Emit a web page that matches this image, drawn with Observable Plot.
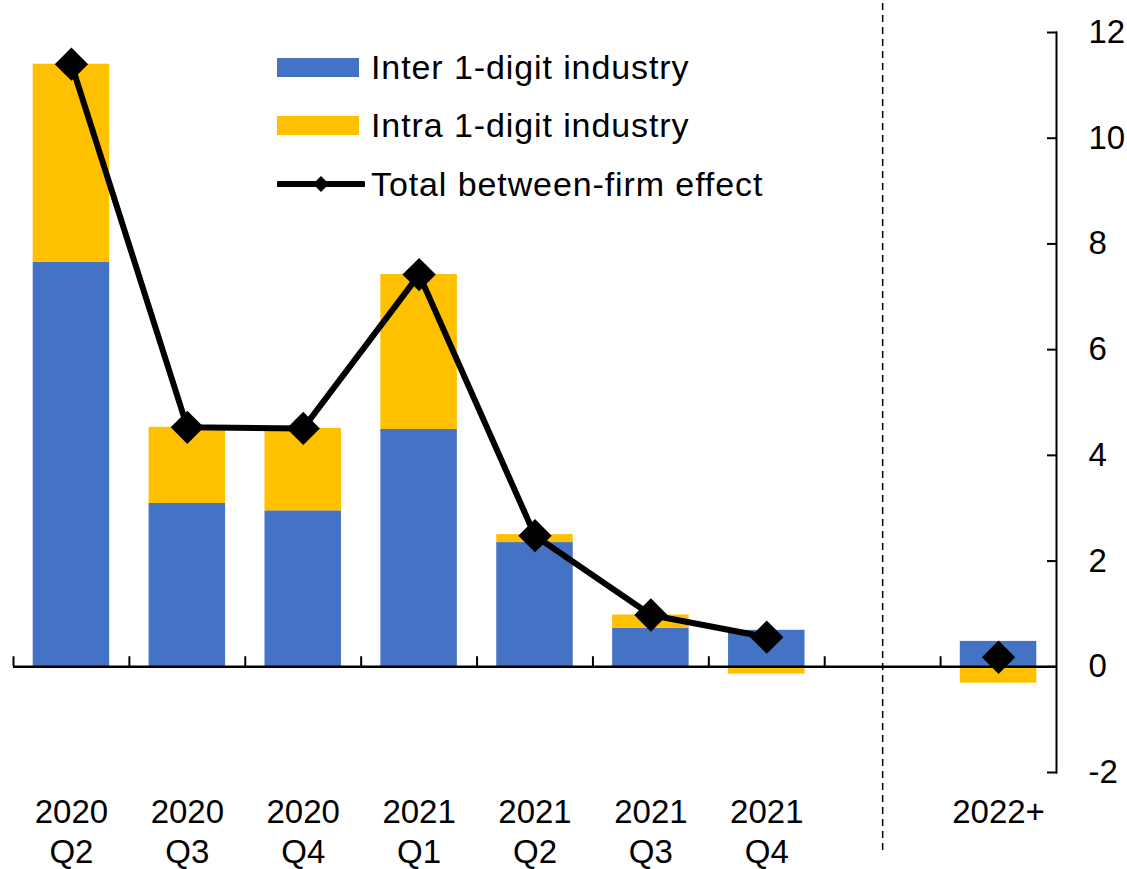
<!DOCTYPE html>
<html>
<head>
<meta charset="utf-8">
<script src="https://cdn.jsdelivr.net/npm/d3@7"></script>
<script src="https://cdn.jsdelivr.net/npm/@observablehq/plot@0.6"></script>
<style>
  body { margin: 0; background: white; }
  #wrap { position: relative; width: 1127px; height: 869px; font-family: Arial, "Liberation Sans", sans-serif; }
  #legend { position: absolute; left: 277px; top: 38px; font-size: 34px; letter-spacing: 0.9px; color: black; }
  .row { display: flex; align-items: center; height: 58.5px; }
  .sw { width: 82px; height: 19px; margin-right: 12px; }
  .lineSw { width: 88px; height: 20px; margin-right: 6px; }
</style>
</head>
<body>
<div id="wrap">
  <div id="chart"></div>
  <div id="legend"></div>
</div>
<script>
const categories = ["2020 Q2", "2020 Q3", "2020 Q4", "2021 Q1", "2021 Q2", "2021 Q3", "2021 Q4", "gap", "2022+"];
const dataCategories = ["2020 Q2", "2020 Q3", "2020 Q4", "2021 Q1", "2021 Q2", "2021 Q3", "2021 Q4", "2022+"];
const interValues = [7.65, 3.09, 2.95, 4.49, 2.35, 0.73, 0.69, 0.48];
const intraValues = [3.75, 1.44, 1.56, 2.93, 0.15, 0.25, -0.14, -0.31];
const totalValues = [11.4, 4.53, 4.51, 7.42, 2.48, 0.98, 0.56, 0.18];
const seriesNames = ["Inter 1-digit industry", "Intra 1-digit industry", "Total between-firm effect"];
const seriesColors = ["#4472C4", "#FFC000", "#000000"];
const yTicks = [-2, 0, 2, 4, 6, 8, 10, 12];

const barData = [];
dataCategories.forEach((c, i) => {
  barData.push({cat: c, series: seriesNames[0], value: interValues[i]});
  barData.push({cat: c, series: seriesNames[1], value: intraValues[i]});
});
const totalData = dataCategories.map((c, i) => ({cat: c, total: totalValues[i]}));
const lineData = totalData.filter(d => d.cat !== "2022+");

const step = (1127 - 13 - 71) / categories.length;
const labelOf = c => c === "gap" ? "" : c.replace(" ", "\n");

const chart = Plot.plot({
  width: 1127,
  height: 869,
  marginLeft: 13,
  marginRight: 71,
  marginTop: 32,
  marginBottom: 97,
  style: {fontFamily: "Arial, 'Liberation Sans', sans-serif", fontSize: "33px", color: "black", background: "white", overflow: "visible"},
  x: {domain: categories, paddingInner: 0.34, paddingOuter: 0.17, round: false, axis: null},
  y: {domain: [-2, 12], axis: null},
  color: {domain: seriesNames.slice(0, 2), range: seriesColors.slice(0, 2)},
  marks: [
    Plot.barY(barData, {x: "cat", y: "value", fill: "series", order: seriesNames.slice(0, 2)}),
    Plot.ruleY([0], {stroke: "black", strokeWidth: 2.5}),
    Plot.ruleX(categories, {x: d => d, y1: 0, y2: 0.19, dx: -step / 2, stroke: "black", strokeWidth: 2}),
    Plot.ruleX(["gap"], {x: d => d, y1: 12.55, y2: -3.48, stroke: "black", strokeWidth: 1.5, strokeDasharray: "7,5"}),
    Plot.line(lineData, {x: "cat", y: "total", stroke: "black", strokeWidth: 6}),
    Plot.dot(totalData, {x: "cat", y: "total", symbol: "diamond2", r: 15, fill: "black", stroke: null}),
    Plot.frame({anchor: "right", stroke: "black", strokeWidth: 2}),
    Plot.axisY({anchor: "right", ticks: yTicks, tickSize: 10, dx: -10, tickFormat: () => "", strokeWidth: 2}),
    Plot.axisY({anchor: "right", ticks: yTicks, tickSize: 0, tickPadding: 32, fontSize: 33, tickFormat: d => String(d)}),
    Plot.text(categories, {x: d => d, y: -2, text: labelOf, lineAnchor: "top", dy: 22, fontSize: 33, lineHeight: 1.22, fill: "black"})
  ]
});
document.getElementById("chart").appendChild(chart);

const legend = document.getElementById("legend");
seriesNames.forEach((name, i) => {
  const row = document.createElement("div");
  row.className = "row";
  if (i < 2) {
    const sw = document.createElement("div");
    sw.className = "sw";
    sw.style.background = seriesColors[i];
    row.appendChild(sw);
  } else {
    const ns = "http://www.w3.org/2000/svg";
    const svg = document.createElementNS(ns, "svg");
    svg.setAttribute("width", 88);
    svg.setAttribute("height", 20);
    svg.setAttribute("class", "lineSw");
    const ln = document.createElementNS(ns, "line");
    ln.setAttribute("x1", 2); ln.setAttribute("x2", 86);
    ln.setAttribute("y1", 10); ln.setAttribute("y2", 10);
    ln.setAttribute("stroke", "black"); ln.setAttribute("stroke-width", 6);
    ln.setAttribute("stroke-linecap", "round");
    svg.appendChild(ln);
    const dm = document.createElementNS(ns, "path");
    dm.setAttribute("d", "M44,2 L52,10 L44,18 L36,10 Z");
    dm.setAttribute("fill", "black");
    svg.appendChild(dm);
    row.appendChild(svg);
  }
  const t = document.createElement("span");
  t.textContent = name;
  row.appendChild(t);
  legend.appendChild(row);
});
</script>
</body>
</html>
